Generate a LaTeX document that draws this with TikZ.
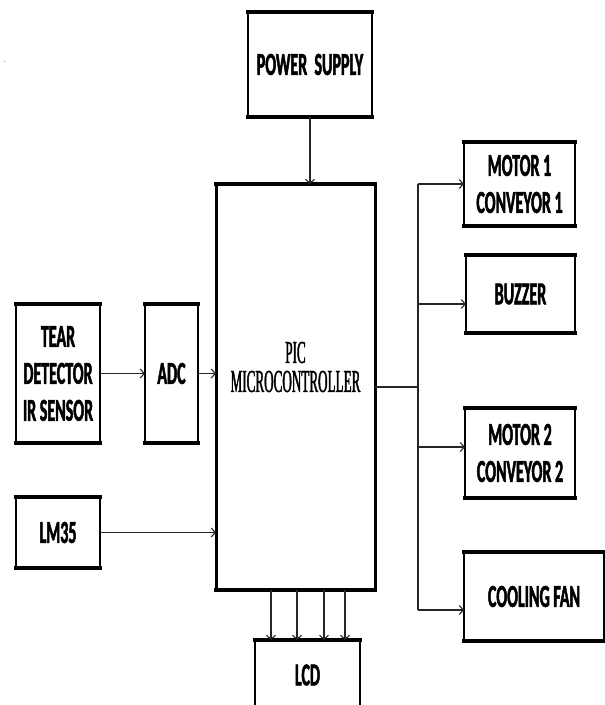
\documentclass[tikz,border=0pt]{standalone}
\usepackage{fontspec}
\usetikzlibrary{arrows.meta}
\newfontfamily\blockfont[FakeStretch=0.5, BoldFeatures={FakeBold=1.5}]{Carlito}
\newfontfamily\picfont[FakeStretch=0.41, FakeBold=1.2]{Liberation Serif}
\begin{document}
\begin{tikzpicture}
[x=1pt, y=-1pt, font=\blockfont\bfseries\fontsize{32}{37}\selectfont]
\tikzstyle{block}=[draw, line width=2pt, outer sep=0pt, inner sep=0pt, align=center]
\tikzstyle{edge}=[line width=4.5pt, line cap=rect]
\tikzstyle{wire}=[line width=1.1pt, black!85]
\tikzstyle{arrow}=[wire, -{Straight Barb[length=4pt, width=9pt]}]
\tikzstyle{mctext}=[font=\picfont\fontsize{32}{29}\selectfont, align=center, yshift=20pt]

\useasboundingbox (0,0) rectangle (605,705);

\node			(dot)	at (5,62)		[font=\small] {.};
\node[block]	(PS)	at (310,64.5)	[minimum width=124, minimum height=105] {POWER\ \ SUPPLY};
\node[block]	(MC)	at (295.5,387)	[minimum width=159, minimum height=406, line width=3pt,
					label={[mctext]center:{PIC\\MICROCONTROLLER}}] {};
\node[block]	(TEAR)	at (58,373.5)	[minimum width=84, minimum height=139] {TEAR\\DETECTOR\\IR SENSOR};
\node[block]	(ADC)	at (171.5,373.5)	[minimum width=53, minimum height=139] {ADC};
\node[block]	(LM)	at (58,532.5)	[minimum width=84, minimum height=71] {LM35};
\node[block]	(M1)	at (519.5,184)	[minimum width=111, minimum height=84] {MOTOR 1\\CONVEYOR 1};
\node[block]	(BZ)	at (520.5,294)	[minimum width=109, minimum height=78] {BUZZER};
\node[block]	(M2)	at (520,453)	[minimum width=110, minimum height=90] {MOTOR 2\\CONVEYOR 2};
\node[block]	(FAN)	at (534,596.5)	[minimum width=140, minimum height=89] {COOLING FAN};
\node[block]	(LCD)	at (307.5,675)	[minimum width=105, minimum height=70] {LCD};

% heavy top and bottom edges
\foreach \n in {PS,MC,TEAR,ADC,LM,M1,BZ,M2,FAN}
	\draw[edge] (\n.north west) -- (\n.north east) (\n.south west) -- (\n.south east);
\draw[edge] (LCD.north west) -- (LCD.north east);

\coordinate	(B1)	at (418,184);
\coordinate	(B2)	at (418,304);
\coordinate	(B3)	at (418,447);
\coordinate	(B4)	at (418,610);

\draw[arrow]	(PS.south) -- (PS.south |- MC.north);
\draw[arrow]	(TEAR) -- (ADC);
\draw[arrow]	(ADC.east) -- (ADC.east -| MC.west);
\draw[arrow]	(LM.east) -- (LM.east -| MC.west);
\draw[wire]		(MC.east) -- (MC.east -| B1);
\draw[wire]		(B1) -- (B4);
\foreach \b/\n in {B1/M1,B2/BZ,B3/M2,B4/FAN}
	\draw[arrow] (\b) -- (\b -| \n.west);
\foreach \x in {271,297,324,345}
	\draw[arrow] (MC.south -| \x,0) -- (LCD.north -| \x,0);

\end{tikzpicture}
\end{document}
